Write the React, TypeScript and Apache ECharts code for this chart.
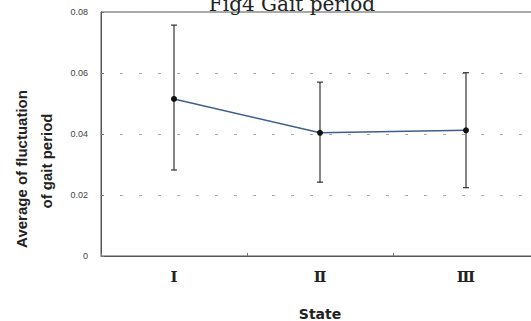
import React, { useEffect, useRef } from "react";
import * as echarts from "echarts";

const categories = ["Ⅰ", "Ⅱ", "Ⅲ"];
const meanValues = [0.0515, 0.0404, 0.0412];
const upperValues = [0.0757, 0.057, 0.0601];
const lowerValues = [0.0282, 0.0242, 0.0224];
const yTicks = [0, 0.02, 0.04, 0.06, 0.08];
const yTickLabels = ["0", "0.02", "0.04", "0.06", "0.08"];

export default function App() {
  const ref = useRef<HTMLDivElement>(null);
  useEffect(() => {
    if (!ref.current) return;
    const chart = echarts.init(ref.current, undefined, { renderer: "svg" });
    const errData = categories.map((_, i) => [i, lowerValues[i], upperValues[i]]);
    chart.setOption({
      animation: false,
      backgroundColor: "#ffffff",
      title: {
        text: "Fig4 Gait period",
        left: 287,
        top: -11,
        textAlign: "center",
        textStyle: { fontFamily: "DejaVu Serif", fontSize: 20, fontWeight: "normal", color: "#222" },
      },
      grid: {
        left: 101,
        right: -8,
        top: 12,
        bottom: 65,
        containLabel: false,
        outerBoundsMode: "none",
        show: true,
        borderColor: "#555",
        borderWidth: 1,
      },
      xAxis: {
        type: "category",
        data: categories,
        boundaryGap: true,
        axisLine: { lineStyle: { color: "#555", width: 1 } },
        axisTick: { show: true, inside: true, length: 3, lineStyle: { color: "#777" } },
        axisLabel: {
          margin: 13,
          fontFamily: "DejaVu Serif",
          fontWeight: "bold",
          fontSize: 15,
          color: "#222",
        },
        name: "State",
        nameLocation: "middle",
        nameGap: 51,
        nameTextStyle: { fontFamily: "DejaVu Sans", fontWeight: "bold", fontSize: 14, color: "#222" },
      },
      yAxis: {
        type: "value",
        min: 0,
        max: 0.08,
        interval: 0.02,
        axisLine: { show: true, lineStyle: { color: "#555", width: 1 } },
        axisTick: { show: true, inside: true, length: 3, lineStyle: { color: "#777" } },
        axisLabel: {
          margin: 13,
          fontFamily: "Liberation Sans",
          fontSize: 9,
          color: "#444",
          formatter: (v: number) => {
            const idx = yTicks.findIndex((t) => Math.abs(t - v) < 1e-9);
            return idx >= 0 ? yTickLabels[idx] : String(v);
          },
        },
        splitLine: { show: true, lineStyle: { color: "#aaa", type: [3, 16], width: 1 } },
      },
      graphic: [
        {
          type: "text",
          x: 21,
          y: 169,
          rotation: Math.PI / 2,
          style: {
            text: "Average of fluctuation",
            align: "center",
            verticalAlign: "middle",
            fontFamily: "Liberation Sans",
            fontWeight: "bold",
            fontSize: 15,
            fill: "#222",
          },
        },
        {
          type: "text",
          x: 46,
          y: 161,
          rotation: Math.PI / 2,
          style: {
            text: "of gait period",
            align: "center",
            verticalAlign: "middle",
            fontFamily: "Liberation Sans",
            fontWeight: "bold",
            fontSize: 15,
            fill: "#222",
          },
        },
      ],
      series: [
        {
          type: "custom",
          data: errData,
          encode: { x: 0, y: [1, 2] },
          z: 3,
          renderItem: (params: any, api: any) => {
            const x = api.value(0);
            const lo = api.coord([x, api.value(1)]);
            const hi = api.coord([x, api.value(2)]);
            const hw = 3;
            const st = { stroke: "#333", lineWidth: 1.2 };
            return {
              type: "group",
              children: [
                { type: "line", shape: { x1: lo[0], y1: lo[1], x2: hi[0], y2: hi[1] }, style: st },
                { type: "line", shape: { x1: hi[0] - hw, y1: hi[1], x2: hi[0] + hw, y2: hi[1] }, style: st },
                { type: "line", shape: { x1: lo[0] - hw, y1: lo[1], x2: lo[0] + hw, y2: lo[1] }, style: st },
              ],
            };
          },
        },
        {
          type: "line",
          data: meanValues,
          z: 4,
          symbol: "circle",
          symbolSize: 6,
          itemStyle: { color: "#111", borderWidth: 0 },
          lineStyle: { color: "#3d5f8c", width: 1.5 },
        },
      ],
    });
    return () => chart.dispose();
  }, []);
  return <div ref={ref} style={{ position: "absolute", left: 0, top: 0, width: 531, height: 321 }} />;
}
